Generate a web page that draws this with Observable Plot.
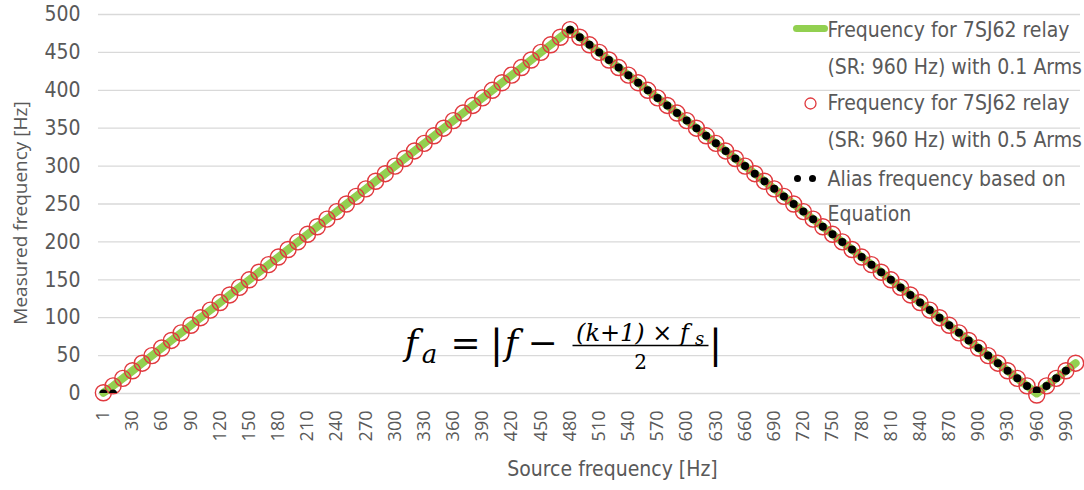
<!DOCTYPE html>
<html>
<head>
<meta charset="utf-8">
<script src="https://cdn.jsdelivr.net/npm/d3@7"></script>
<script src="https://cdn.jsdelivr.net/npm/@observablehq/plot@0.6"></script>
<style>
  html, body { margin: 0; padding: 0; background: white; }
  #chart { width: 1084px; height: 490px; }
</style>
</head>
<body>
<div id="chart"></div>
<script>
// ---- data ----
const sourceFreq = [1,10,20,30,40,50,60,70,80,90,100,110,120,130,140,150,160,170,180,190,200,210,220,230,240,250,260,270,280,290,300,310,320,330,340,350,360,370,380,390,400,410,420,430,440,450,460,470,480,490,500,510,520,530,540,550,560,570,580,590,600,610,620,630,640,650,660,670,680,690,700,710,720,730,740,750,760,770,780,790,800,810,820,830,840,850,860,870,880,890,900,910,920,930,940,950,960,970,980,990,1000];

const measured01 = [1,10,20,30,40,50,60,70,80,90,100,110,120,130,140,150,160,170,180,190,200,210,220,230,240,250,260,270,280,290,300,310,320,330,340,350,360,370,380,390,400,410,420,430,440,450,460,470,480,470,460,450,440,430,420,410,400,390,380,370,360,350,340,330,320,310,300,290,280,270,260,250,240,230,220,210,200,190,180,170,160,150,140,130,120,110,100,90,80,70,60,50,40,30,20,10,0,10,20,30,40];

const measured05 = [1,10,20,30,40,50,60,70,80,90,100,110,120,130,140,150,160,170,180,190,200,210,220,230,240,250,260,270,280,290,300,310,320,330,340,350,360,370,380,390,400,410,420,430,440,450,460,470,480,470,460,450,440,430,420,410,400,390,380,370,360,350,340,330,320,310,300,290,280,270,260,250,240,230,220,210,200,190,180,170,160,150,140,130,120,110,100,90,80,70,60,50,40,30,20,10,-2,10,20,30,40];

const aliasFreq = [0,0,null,null,null,null,null,null,null,null,null,null,null,null,null,null,null,null,null,null,null,null,null,null,null,null,null,null,null,null,null,null,null,null,null,null,null,null,null,null,null,null,null,null,null,null,null,null,480,470,460,450,440,430,420,410,400,390,380,370,360,350,340,330,320,310,300,290,280,270,260,250,240,230,220,210,200,190,180,170,160,150,140,130,120,110,100,90,80,70,60,50,40,30,20,10,4,10,20,30,null];

const xTicks = [1,30,60,90,120,150,180,210,240,270,300,330,360,390,420,450,480,510,540,570,600,630,660,690,720,750,780,810,840,870,900,930,960,990];
const yTicks = [0,50,100,150,200,250,300,350,400,450,500];

const seriesNames = [
  "Frequency for 7SJ62 relay\n(SR: 960 Hz) with 0.1 Arms",
  "Frequency for 7SJ62 relay\n(SR: 960 Hz) with 0.5 Arms",
  "Alias frequency based on\nEquation"
];
const xLabel = "Source frequency [Hz]";
const yLabel = "Measured frequency [Hz]";

// ---- table built from the arrays ----
const rows = sourceFreq.map((f, i) => ({f, a: measured01[i], b: measured05[i], c: aliasFreq[i]}));

// ---- layout ----
const W = 1084, H = 490, ML = 98, MR = 4, MT = 14, MB = 97;
const GREEN = "#92d050", RED = "#e0393e", TXT = "#595959";
const SERIF = "'DejaVu Serif', 'Liberation Serif', serif";
const NARROW = "'DejaVu Sans Condensed', 'DejaVu Sans', sans-serif";

function at(cx, cy) { return {frameAnchor: "top-left", dx: cx - ML, dy: cy - MT}; }
function eq(str, cx, baseline, size, italic) {
  return Plot.text([str], {
    text: d => d, ...at(cx, baseline), textAnchor: "middle", lineAnchor: "bottom",
    fontSize: size, fontFamily: SERIF, fontStyle: italic ? "italic" : "normal", fill: "black"
  });
}
function hline(len) {
  return {draw(ctx) { ctx.moveTo(-len / 2, 0); ctx.lineTo(len / 2, 0); }};
}

const chart = Plot.plot({
  width: W, height: H,
  marginLeft: ML, marginRight: MR, marginTop: MT, marginBottom: MB,
  style: {fontFamily: "'Open Sans', sans-serif", color: TXT, background: "white", overflow: "visible"},
  x: {type: "point", domain: sourceFreq, padding: 0.5},
  y: {domain: [0, 500]},
  marks: [
    Plot.gridY(yTicks, {stroke: "#d9d9d9", strokeOpacity: 1, strokeWidth: 1.3}),
    Plot.axisY({ticks: yTicks, tickSize: 0, tickPadding: 18, fontSize: 21, fontFamily: NARROW, label: null}),
    Plot.axisX({ticks: xTicks, tickSize: 0, tickPadding: 17, tickRotate: -90, fontSize: 18, label: null}),
    Plot.text([xLabel], {text: d => d, frameAnchor: "bottom", dx: 23, dy: 76, fontSize: 21, fontFamily: NARROW, lineAnchor: "middle", fill: TXT}),
    Plot.text([yLabel], {text: d => d, frameAnchor: "left", dx: -78, dy: 9, rotate: -90, fontSize: 19, lineAnchor: "middle", textAnchor: "middle", fill: TXT}),

    // series
    Plot.line(rows, {x: "f", y: "a", stroke: GREEN, strokeWidth: 8, strokeLinecap: "round", strokeLinejoin: "round"}),
    Plot.dot(rows, {x: "f", y: "b", r: 8, stroke: RED, strokeWidth: 1.4, fill: "none"}),
    Plot.dot(rows.filter(d => d.c != null), {x: "f", y: "c", r: 4, fill: "black", stroke: "none", clip: true}),

    // legend
    Plot.dot([0], {...at(810, 28), symbol: hline(28), fill: "none", stroke: GREEN, strokeWidth: 7, strokeLinecap: "round"}),
    Plot.dot([0], {...at(810, 103), r: 5.5, fill: "none", stroke: RED, strokeWidth: 1.3}),
    Plot.dot([0], {...at(797, 178), r: 3.5, fill: "black", stroke: "none"}),
    Plot.dot([0], {...at(812, 178), r: 3.5, fill: "black", stroke: "none"}),
    Plot.text([seriesNames[0]], {text: d => d, ...at(827, 43), textAnchor: "start", lineAnchor: "middle", lineHeight: 1.76, fontSize: 21, fontFamily: NARROW, fill: TXT}),
    Plot.text([seriesNames[1]], {text: d => d, ...at(827, 116.5), textAnchor: "start", lineAnchor: "middle", lineHeight: 1.76, fontSize: 21, fontFamily: NARROW, fill: TXT}),
    Plot.text([seriesNames[2]], {text: d => d, ...at(827, 192), textAnchor: "start", lineAnchor: "middle", lineHeight: 1.67, fontSize: 21, fontFamily: NARROW, fill: TXT}),

    // equation  f_a = | f - (k+1) x f_s / 2 |
    eq("f", 411, 354, 36, true),
    eq("a", 429, 362, 26, true),
    eq("=", 465, 354, 36, false),
    eq("|", 496, 357, 40, false),
    eq("f", 511, 354, 36, true),
    eq("\u2212", 542, 354, 36, false),
    eq("(k+1) \u00d7 f", 632, 340, 24, true),
    eq("s", 699, 344, 18, true),
    Plot.dot([0], {...at(640, 345), symbol: hline(136), fill: "none", stroke: "black", strokeWidth: 1.5}),
    eq("2", 640, 368, 20, false),
    eq("|", 715, 357, 40, false)
  ]
});
document.getElementById("chart").appendChild(chart);
</script>
</body>
</html>
